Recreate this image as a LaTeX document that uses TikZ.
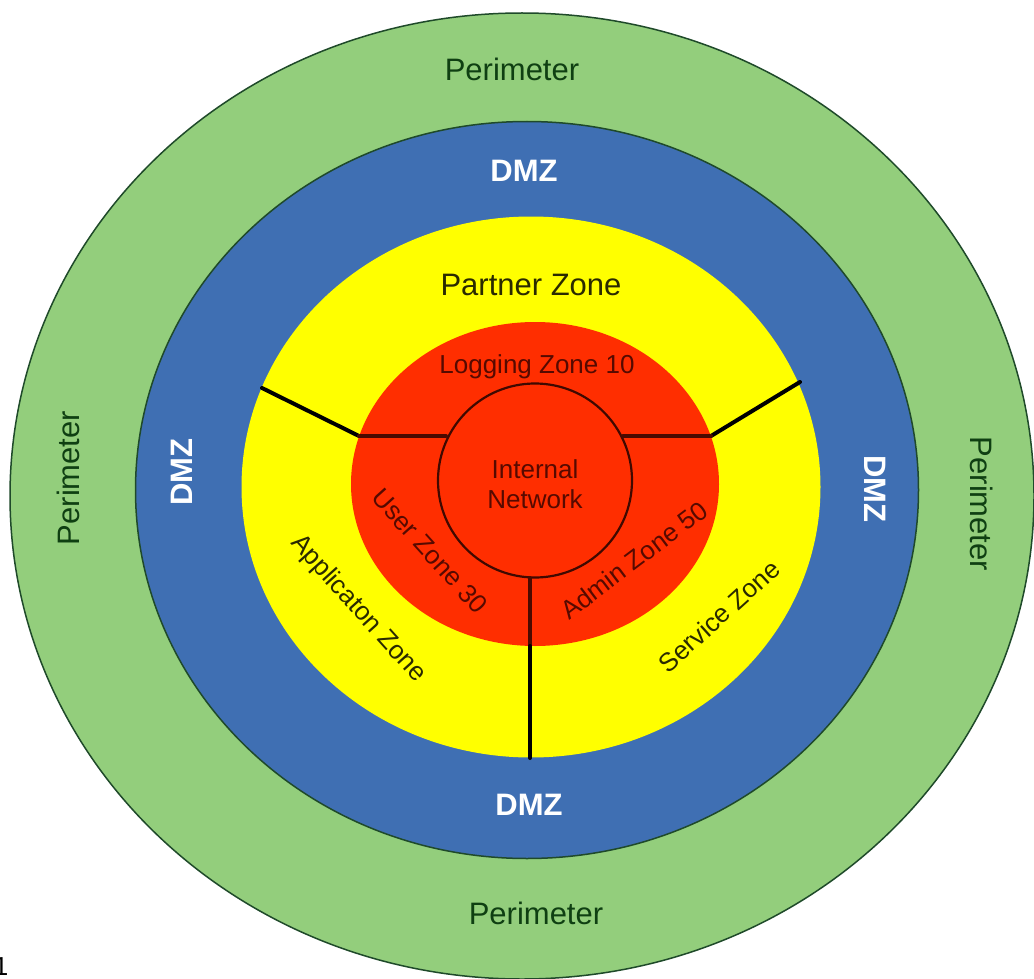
\documentclass[tikz,border=0pt]{standalone}
\usepackage{fontspec}
\setmainfont{Liberation Sans}
\usetikzlibrary{shapes.geometric}
\definecolor{ringgreen}{HTML}{93CE7C}
\definecolor{ringblue}{HTML}{3F6FB3}
\definecolor{ringyellow}{HTML}{FFFF00}
\definecolor{ringred}{HTML}{FF2E00}
\definecolor{edgegreen}{HTML}{1F4A2A}
\definecolor{edgered}{HTML}{6A0F00}
\definecolor{txtgreen}{HTML}{0F3F12}
\definecolor{txtyellow}{HTML}{2A2A00}
\definecolor{txtred}{HTML}{560A00}
\tikzset{
  zone/.style={ellipse,inner sep=0pt,outer sep=0pt},
  big/.style={font=\fontsize{31}{33}\selectfont,inner sep=0pt},
  small/.style={font=\fontsize{26}{30}\selectfont,inner sep=0pt},
  perim/.style={big,text=txtgreen},
  dmz/.style={big,text=white,font=\fontsize{31}{33}\selectfont\bfseries},
  yel/.style={text=txtyellow},
  redtxt/.style={small,text=txtred},
  wall/.style={draw=black,line width=4pt,line cap=round,line join=round},
  wallred/.style={draw=edgered!70!black,line width=4pt,line cap=round,line join=round}
}
\begin{document}
\begin{tikzpicture}[x=1pt,y=-1pt]
\useasboundingbox (0,0) rectangle (1034,979);
\fill[white] (0,0) rectangle (1034,979);
\node[zone,fill=ringgreen,draw=edgegreen,line width=1.5pt,minimum width=1024pt,minimum height=966pt] (perimeter) at (522,496) {};
\node[zone,fill=ringblue,draw=edgegreen,line width=1.5pt,minimum width=783pt,minimum height=737pt] (dmzring) at (527,490) {};
\node[zone,fill=ringyellow,minimum width=579pt,minimum height=541pt] (outerzone) at (531,487) {};
\node[zone,fill=ringred,minimum width=368pt,minimum height=324pt] (innerzone) at (535,484) {};
\node[circle,fill=ringred,draw=edgered!60!black,line width=2.2pt,minimum size=194pt,inner sep=0pt,outer sep=0pt] (core) at (535,480.5) {};
\coordinate (leftouter) at (262,388);
\coordinate (leftmid) at (359,436);
\coordinate (leftin) at (446,436);
\coordinate (rightouter) at (800,382);
\coordinate (rightmid) at (711,436);
\coordinate (rightin) at (623,436);
\coordinate (botin) at (530,578);
\coordinate (botmid) at (530,646);
\coordinate (botout) at (530,758);
\draw[wall] (leftouter) -- (leftmid);
\draw[wallred] (leftmid) -- (leftin);
\draw[wall] (rightouter) -- (rightmid);
\draw[wallred] (rightmid) -- (rightin);
\draw[wallred] (botin) -- (botmid);
\draw[wall] (botmid) -- (botout);
\node[perim] (ptop) at (512,69) {Perimeter};
\node[perim] (pbot) at (536,913) {Perimeter};
\node[perim,rotate=90] (pleft) at (68,478) {Perimeter};
\node[perim,rotate=-90] (pright) at (982,504) {Perimeter};
\node[dmz] (dtop) at (524,171) {DMZ};
\node[dmz] (dbot) at (529,805) {DMZ};
\node[dmz,rotate=90] (dleft) at (182,472) {DMZ};
\node[dmz,rotate=-90] (dright) at (875,489) {DMZ};
\node[big,yel] (partner) at (531,285) {Partner Zone};
\node[redtxt] (logging) at (537,367) {Logging Zone 10};
\node[redtxt,align=center] (internal) at (535,484) {Internal\\Network};
\node[redtxt,rotate=-48] (user) at (430,551) {User Zone 30};
\node[redtxt,rotate=37] (admin) at (634,560) {Admin Zone 50};
\node[small,yel,rotate=-48] (application) at (358,609) {Applicaton Zone};
\node[small,yel,rotate=42] (service) at (719,616) {Service Zone};
\node[font=\fontsize{26}{30}\selectfont\rmfamily,inner sep=0pt,text=black] (pagenum) at (1,967) {1};
\end{tikzpicture}
\end{document}
